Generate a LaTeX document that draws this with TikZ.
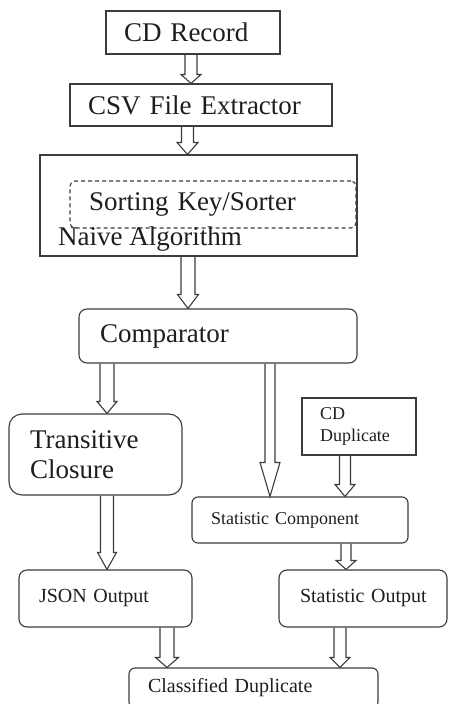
\documentclass[tikz,border=0pt]{standalone}
\usepackage{fontspec}
\setmainfont{Liberation Serif}
\usetikzlibrary{calc}
\definecolor{linec}{HTML}{3C3C3C}
\definecolor{textc}{HTML}{1E1E1E}
\newcommand{\fbig}{\fontsize{27}{30}\selectfont}
\newcommand{\fmid}{\fontsize{20}{23}\selectfont}
\newcommand{\fsmall}{\fontsize{18}{22}\selectfont}
\tikzset{
  box/.style={draw=linec, line width=1.1pt, text=textc, align=left, inner ysep=0pt},
  hollow/.style n args={3}{draw=linec, line width=1.1pt, line join=miter, to path={
    let \p1=(\tikztostart), \p2=(\tikztotarget) in
    (\x1-#1,\y1) -- (\x1-#1,\y2+#3) -- (\x1-#2,\y2+#3) -- (\x1,\y2)
    -- (\x1+#2,\y2+#3) -- (\x1+#1,\y2+#3) -- (\x1+#1,\y1)
  }},
}
\begin{document}
\begin{tikzpicture}[x=1pt,y=-1pt]
\useasboundingbox[fill=white] (0,0) rectangle (448,704);
% boxes
\node[box, minimum width=174pt, minimum height=43pt, inner xsep=18pt, text width=138pt, font=\fbig] (rec) at (193,32.5) {CD Record};
\node[box, minimum width=262pt, minimum height=42pt, inner xsep=18pt, text width=226pt, font=\fbig] (csv) at (201,105) {CSV File Extractor};
\node[box, minimum width=317pt, minimum height=101pt, inner sep=0pt] (naive) at (198.5,205.5) {};
\node[box, dash pattern=on 4pt off 3pt, rounded corners=5pt, minimum width=286pt, minimum height=47pt, inner xsep=19pt, text width=248pt, font=\fbig] (sort) at (213,204.5) {Sorting Key/Sorter};
\node[anchor=base west, text=textc, font=\fbig, inner sep=0pt] (naivetxt) at (58,245) {Naive Algorithm};
\node[box, rounded corners=8pt, minimum width=278pt, minimum height=54pt, inner xsep=21pt, text width=236pt, font=\fbig] (comp) at (218,336) {Comparator};
\node[box, rounded corners=13pt, minimum width=173pt, minimum height=81pt, inner xsep=21pt, text width=131pt, font=\fbig] (trans) at (95.5,454.5) {Transitive\\Closure};
\node[box, minimum width=114pt, minimum height=57pt, inner xsep=18pt, text width=78pt, font=\fsmall] (cddup) at (359,426.5) {CD\\Duplicate};
\node[box, rounded corners=6pt, minimum width=216pt, minimum height=46pt, inner xsep=19pt, text width=178pt, font=\fsmall] (statc) at (300,520) {Statistic~Component};
\node[box, rounded corners=8pt, minimum width=173pt, minimum height=57pt, inner xsep=20pt, text width=133pt, font=\fmid] (json) at (105.5,598.5) {JSON~Output};
\node[box, rounded corners=8pt, minimum width=168pt, minimum height=57pt, inner xsep=21pt, text width=126pt, font=\fmid] (stato) at (363,598.5) {\mbox{Statistic Output}};
\node[box, rounded corners=6pt, minimum width=249pt, minimum height=40pt, inner xsep=19pt, text width=211pt, font=\fmid] (cls) at (253.5,688) {Classified~Duplicate};
% hollow arrows
\draw[hollow={6pt}{10pt}{9pt}] (rec.south -| 191,0) to (csv.north);
\draw[hollow={6pt}{10.5pt}{12pt}] (csv.south -| 187.5,0) to (naive.north);
\draw[hollow={7pt}{10.5pt}{14pt}] (naive.south -| 188,0) to (comp.north);
\draw[hollow={7pt}{10pt}{12pt}] (comp.south -| 107,0) to (trans.north);
\draw[hollow={5pt}{10pt}{34pt}] (comp.south -| 270,0) to (statc.north);
\draw[hollow={5.5pt}{10pt}{12pt}] (cddup.south -| 345,0) to (statc.north);
\draw[hollow={6.5pt}{9.5pt}{17pt}] (trans.south -| 107,0) to (json.north);
\draw[hollow={5pt}{10pt}{9pt}] (statc.south -| 346,0) to (stato.north);
\draw[hollow={7pt}{11.5pt}{10pt}] (json.south -| 167,0) to (cls.north);
\draw[hollow={6pt}{10pt}{10pt}] (stato.south -| 340,0) to (cls.north);
\end{tikzpicture}
\end{document}
